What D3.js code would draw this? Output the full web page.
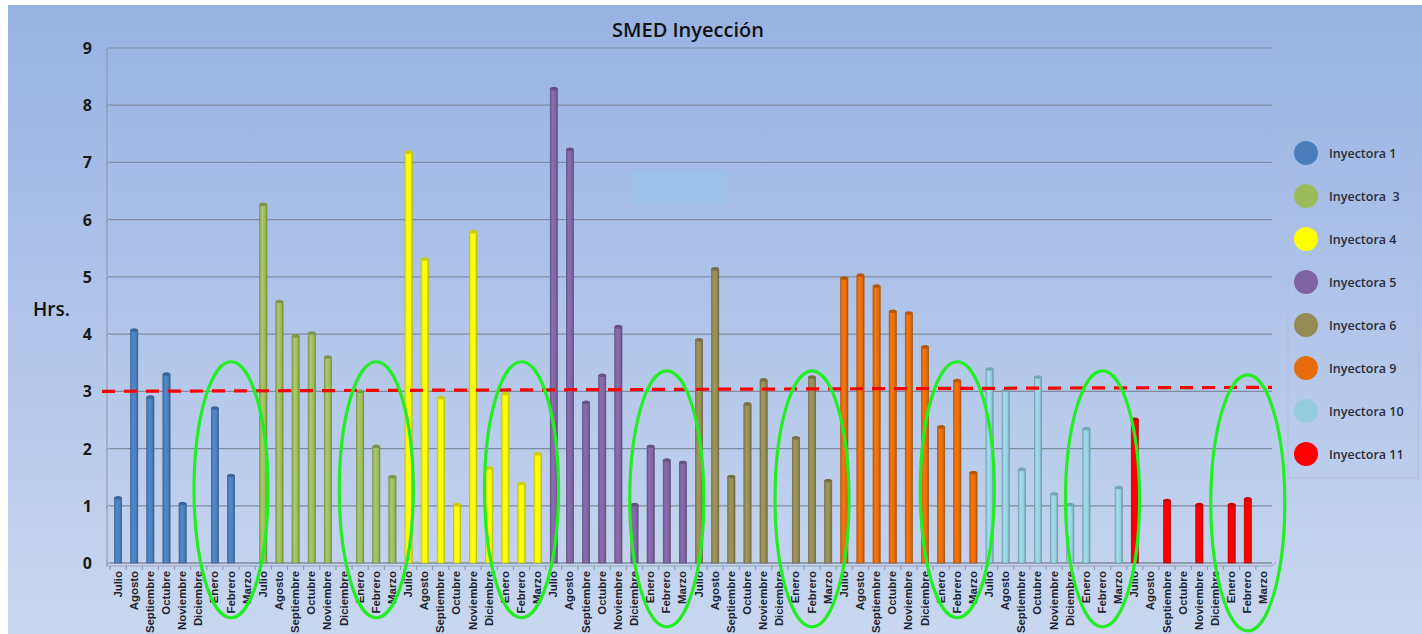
<!DOCTYPE html>
<html>
<head>
<meta charset="utf-8">
<script src="https://cdn.jsdelivr.net/npm/d3@7"></script>
<style>
  body { margin: 0; background: #fff; }
  svg { display: block; }
</style>
</head>
<body>
<svg id="chart" width="1422" height="634"></svg>
<script>
// months for each machine, Julio..Marzo
var months = ["Julio", "Agosto", "Septiembre", "Octubre", "Noviembre", "Diciembre", "Enero", "Febrero", "Marzo"];
var machines = ["Inyectora 1", "Inyectora  3", "Inyectora 4", "Inyectora 5", "Inyectora 6", "Inyectora 9", "Inyectora 10", "Inyectora 11"];
var colors = ["#4a7ebb", "#9bbb59", "#ffff00", "#8064a2", "#948a54", "#e46c0a", "#93cddd", "#ff0000"];

// hours per month (null = no bar)
var iny1  = [1.14, 4.07, 2.90, 3.30, 1.04, null, 2.71, 1.53, null];
var iny3  = [6.27, 4.57, 3.97, 4.02, 3.60, null, 3.00, 2.04, 1.51];
var iny4  = [7.18, 5.31, 2.89, 1.02, 5.79, 1.66, 2.96, 1.39, 1.91];
var iny5  = [8.29, 7.23, 2.81, 3.28, 4.13, 1.02, 2.04, 1.80, 1.76];
var iny6  = [3.90, 5.14, 1.51, 2.78, 3.20, null, 2.19, 3.25, 1.44];
var iny9  = [4.98, 5.03, 4.84, 4.40, 4.37, 3.78, 2.38, 3.19, 1.58];
var iny10 = [3.39, 3.02, 1.64, 3.25, 1.21, 1.02, 2.35, null, 1.32];
var iny11 = [2.51, null, 1.09, null, 1.02, null, 1.02, 1.12, null];
var series = [iny1, iny3, iny4, iny5, iny6, iny9, iny10, iny11];

var yTicks = [0, 1, 2, 3, 4, 5, 6, 7, 8, 9];
var targetLine = [3.0, 3.07];   // dashed red reference, left to right
// green circled months (Enero..Marzo) – centre value of each ellipse
var circleCenter = [1.28, 1.28, 1.28, 1.12, 1.12, 1.28, 1.12, 1.05];

var svg = d3.select("#chart");
var W = 1422, H = 634;
var margin = {top: 48, right: 150, bottom: 71, left: 110};

// background gradient
var defs = svg.append("defs");
var bg = defs.append("linearGradient").attr("id", "bg")
  .attr("x1", 0).attr("y1", 0).attr("x2", 0).attr("y2", 1);
bg.append("stop").attr("offset", "0%").attr("stop-color", "#97b3e2");
bg.append("stop").attr("offset", "100%").attr("stop-color", "#c9d7f0");
svg.append("rect").attr("x", 8).attr("y", 5).attr("width", W - 8).attr("height", H - 5)
  .attr("fill", "url(#bg)");

// bar gradients (cylinder look)
colors.forEach(function(c, i) {
  var g = defs.append("linearGradient").attr("id", "bar" + i)
    .attr("x1", 0).attr("y1", 0).attr("x2", 1).attr("y2", 0);
  g.append("stop").attr("offset", "0%").attr("stop-color", d3.color(c).darker(0.3));
  g.append("stop").attr("offset", "35%").attr("stop-color", d3.color(c).brighter(0.25));
  g.append("stop").attr("offset", "75%").attr("stop-color", c);
  g.append("stop").attr("offset", "100%").attr("stop-color", d3.color(c).darker(0.8));
});

// flat list of all bars
var keys = [];
var bars = [];
series.forEach(function(vals, gi) {
  vals.forEach(function(v, mi) {
    var k = gi + "-" + mi;
    keys.push(k);
    bars.push({key: k, group: gi, month: months[mi], value: v});
  });
});

var x = d3.scaleBand().domain(keys).range([margin.left, W - margin.right]).padding(0);
var y = d3.scaleLinear().domain([0, 9]).range([H - margin.bottom, margin.top]);
var bw = x.bandwidth() * 0.45;

// gridlines
var grid = svg.append("g");
yTicks.forEach(function(t) {
  grid.append("line")
    .attr("x1", margin.left).attr("x2", W - margin.right)
    .attr("y1", y(t)).attr("y2", y(t))
    .attr("stroke", "#7f8ba0").attr("stroke-width", t === 0 ? 1.5 : 1.2);
  grid.append("line")
    .attr("x1", margin.left - 4).attr("x2", margin.left)
    .attr("y1", y(t) + 2).attr("y2", y(t) - 1)
    .attr("stroke", "#7f8ba0").attr("stroke-width", 1);
});
grid.append("line")
  .attr("x1", margin.left - 3).attr("x2", margin.left - 3)
  .attr("y1", y(9) + 2).attr("y2", y(0) + 2)
  .attr("stroke", "#8a93a6").attr("stroke-width", 1);
grid.append("line")
  .attr("x1", margin.left - 4).attr("x2", W - margin.right)
  .attr("y1", y(0) + 3).attr("y2", y(0) + 3)
  .attr("stroke", "#9aa3b5").attr("stroke-width", 1);
grid.append("line")
  .attr("x1", W - margin.right).attr("x2", W - margin.right + 4)
  .attr("y1", y(0) + 3).attr("y2", y(0) - 1)
  .attr("stroke", "#9aa3b5").attr("stroke-width", 1);

// y tick labels
svg.append("g").selectAll("text").data(yTicks).enter().append("text")
  .attr("x", 92).attr("y", function(d) { return y(d) + 6; })
  .attr("text-anchor", "end")
  .attr("font-family", "Open Sans, sans-serif").attr("font-weight", "bold")
  .attr("font-size", 16).attr("fill", "#1a1a1a")
  .text(function(d) { return d; });

// x ticks
svg.append("g").selectAll("line").data(keys).enter().append("line")
  .attr("x1", function(d) { return x(d); }).attr("x2", function(d) { return x(d); })
  .attr("y1", y(0) + 3).attr("y2", y(0) + 7)
  .attr("stroke", "#8a93a6");

// bars
var barG = svg.append("g");
var shown = bars.filter(function(d) { return d.value != null; });
barG.selectAll("rect").data(shown).enter().append("rect")
  .attr("x", function(d) { return x(d.key) + x.bandwidth() / 2 - bw / 2; })
  .attr("y", function(d) { return y(d.value); })
  .attr("width", bw)
  .attr("height", function(d) { return y(0) - y(d.value); })
  .attr("fill", function(d) { return "url(#bar" + d.group + ")"; })
  .attr("stroke", function(d) { return d3.color(colors[d.group]).darker(0.9); })
  .attr("stroke-width", 0.6);
barG.selectAll("ellipse").data(shown).enter().append("ellipse")
  .attr("cx", function(d) { return x(d.key) + x.bandwidth() / 2; })
  .attr("cy", function(d) { return y(d.value); })
  .attr("rx", bw / 2).attr("ry", 1.8)
  .attr("fill", function(d) { return d3.color(colors[d.group]).darker(0.6); });

// x labels, stretched a bit along their length like the original condensed font
svg.append("g").selectAll("text").data(bars).enter().append("text")
  .attr("transform", function(d) {
    return "translate(" + (x(d.key) + x.bandwidth() / 2 + 3.5) + "," + (y(0) + 8) + ") rotate(-90) scale(1.14,1)";
  })
  .attr("text-anchor", "end")
  .attr("font-family", "Liberation Sans, Arial, sans-serif").attr("font-weight", "bold")
  .attr("font-size", 10).attr("fill", "#1f2430")
  .text(function(d) { return d.month; });

// empty light box
svg.append("rect").attr("x", 632).attr("y", 171).attr("width", 95).attr("height", 34)
  .attr("fill", "#9cc3e8").attr("opacity", 0.85);

// dashed target line
svg.append("line")
  .attr("x1", margin.left - 8).attr("x2", W - margin.right)
  .attr("y1", y(targetLine[0])).attr("y2", y(targetLine[1]))
  .attr("stroke", "#ff0000").attr("stroke-width", 3.2)
  .attr("stroke-dasharray", "13,9");

// green ellipses around Enero-Marzo
svg.append("g").selectAll("ellipse").data(circleCenter).enter().append("ellipse")
  .attr("cx", function(d, i) { return x(i + "-7") + x.bandwidth() / 2; })
  .attr("cy", function(d) { return y(d); })
  .attr("rx", 37).attr("ry", 128)
  .attr("fill", "none").attr("stroke", "#22ee22").attr("stroke-width", 3.2);

// title and axis name
svg.append("text").attr("x", 688).attr("y", 37).attr("text-anchor", "middle")
  .attr("font-family", "Open Sans, sans-serif").attr("font-size", 20).attr("font-weight", 600)
  .attr("fill", "#111")
  .text("SMED Inyección");
svg.append("text").attr("x", 33).attr("y", 316)
  .attr("font-family", "Open Sans, sans-serif").attr("font-size", 19).attr("font-weight", 600)
  .attr("fill", "#111")
  .text("Hrs.");

// legend
var leg = svg.append("g");
leg.append("rect").attr("x", 1288).attr("y", 133).attr("width", 130).attr("height", 345)
  .attr("fill", "none").attr("stroke", "#b0bdd6").attr("stroke-width", 1);
var legY = d3.scalePoint().domain(machines).range([153, 454]);
machines.forEach(function(m, i) {
  leg.append("circle").attr("cx", 1306).attr("cy", legY(m)).attr("r", 12)
    .attr("fill", colors[i]);
  leg.append("text").attr("x", 1329).attr("y", legY(m) + 5)
    .attr("font-family", "Open Sans, sans-serif").attr("font-size", 12.5)
    .attr("font-weight", 600).attr("fill", "#2a2d3a")
    .attr("xml:space", "preserve").style("white-space", "pre")
    .text(m);
});
</script>
</body>
</html>
